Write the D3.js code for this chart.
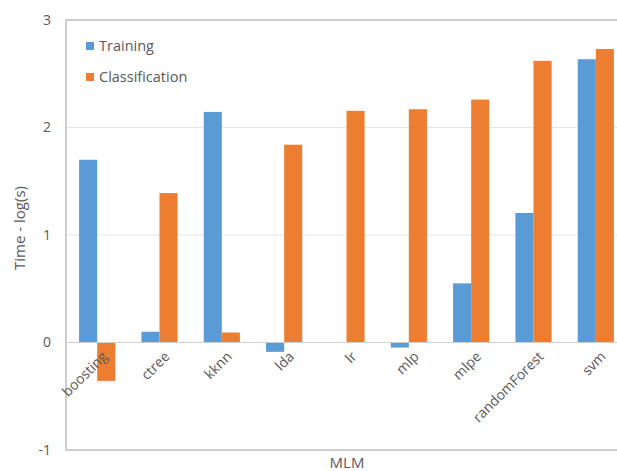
<!DOCTYPE html>
<html>
<head>
<meta charset="utf-8">
<script src="https://cdn.jsdelivr.net/npm/d3@7/dist/d3.min.js"></script>
<style>
  html, body { margin: 0; padding: 0; background: #fff; }
  svg { display: block; font-family: "Open Sans", "Noto Sans", sans-serif; }
</style>
</head>
<body>
<svg id="chart" width="617" height="471"></svg>
<script>
// Models compared
const categories = ["boosting", "ctree", "kknn", "lda", "lr", "mlp", "mlpe", "randomForest", "svm"];
// log10 of time in seconds
const training = [1.70, 0.10, 2.145, -0.087, 0, -0.047, 0.55, 1.205, 2.635];
const classification = [-0.357, 1.39, 0.093, 1.84, 2.155, 2.17, 2.26, 2.62, 2.73];
const seriesNames = ["Training", "Classification"];
const yTicks = [-1, 0, 1, 2, 3];

const colors = { Training: "#5B9BD5", Classification: "#ED7D31" };

const svg = d3.select("#chart");
const plot = { left: 66, right: 627, top: 20, bottom: 450 };

const x = d3.scaleBand().domain(categories).range([plot.left, plot.right]).paddingInner(0.42).paddingOuter(0.21);
const xs = d3.scaleBand().domain(seriesNames).range([0, x.bandwidth()]);
const y = d3.scaleLinear().domain([-1, 3]).range([plot.bottom, plot.top]);

// Gridlines
svg.append("g").selectAll("line").data(yTicks.filter(t => t > 0 && t < 3)).join("line")
  .attr("x1", plot.left).attr("x2", plot.right)
  .attr("y1", d => y(d)).attr("y2", d => y(d))
  .attr("stroke", "#E3E3E3").attr("stroke-width", 1);

// Plot frame
svg.append("rect")
  .attr("x", plot.left).attr("y", plot.top)
  .attr("width", plot.right - plot.left).attr("height", plot.bottom - plot.top)
  .attr("fill", "none").attr("stroke", "#BFBFBF").attr("stroke-width", 1.5);

// Y axis labels
const yAxis = d3.axisLeft(y).tickValues(yTicks).tickFormat(d => String(d)).tickSize(0).tickPadding(15);
const ya = svg.append("g").attr("transform", `translate(${plot.left},0)`).call(yAxis);
ya.select(".domain").remove();
ya.selectAll("text").attr("fill", "#595959").attr("font-size", 14).attr("font-family", "Open Sans, sans-serif");

// Bars
const rows = categories.map((c, i) => ({ cat: c, Training: training[i], Classification: classification[i] }));
const groups = svg.append("g").selectAll("g").data(rows).join("g")
  .attr("transform", d => `translate(${x(d.cat)},0)`);
groups.selectAll("rect").data(d => seriesNames.map(s => ({ s, v: d[s] }))).join("rect")
  .attr("x", d => xs(d.s))
  .attr("width", xs.bandwidth())
  .attr("y", d => y(Math.max(0, d.v)))
  .attr("height", d => Math.abs(y(d.v) - y(0)))
  .attr("fill", d => colors[d.s]);

// Zero line
svg.append("line")
  .attr("x1", plot.left).attr("x2", plot.right)
  .attr("y1", y(0)).attr("y2", y(0))
  .attr("stroke", "#D0D0D0").attr("stroke-width", 1.2);

// Category labels, rotated
svg.append("g").selectAll("text").data(categories).join("text")
  .attr("transform", d => `translate(${x(d) + x.bandwidth() / 2 + 4},${y(0) + 8}) rotate(-45)`)
  .attr("text-anchor", "end")
  .attr("dy", "0.7em")
  .attr("fill", "#595959")
  .attr("font-size", 14)
  .text(d => d);

// Axis titles
svg.append("text")
  .attr("x", 347).attr("y", 468)
  .attr("text-anchor", "middle")
  .attr("fill", "#595959").attr("font-size", 15)
  .text("MLM");
svg.append("text")
  .attr("transform", `translate(25,228) rotate(-90)`)
  .attr("text-anchor", "middle")
  .attr("fill", "#595959").attr("font-size", 15)
  .text("Time - log(s)");

// Legend
const legend = svg.append("g").selectAll("g").data(seriesNames).join("g")
  .attr("transform", (d, i) => `translate(86,${46 + i * 31})`);
legend.append("rect").attr("x", 0).attr("y", -4).attr("width", 8).attr("height", 8)
  .attr("fill", d => colors[d]);
legend.append("text").attr("x", 13).attr("y", 0).attr("dy", "0.35em")
  .attr("fill", "#595959").attr("font-size", 14.5)
  .text(d => d);
</script>
</body>
</html>
